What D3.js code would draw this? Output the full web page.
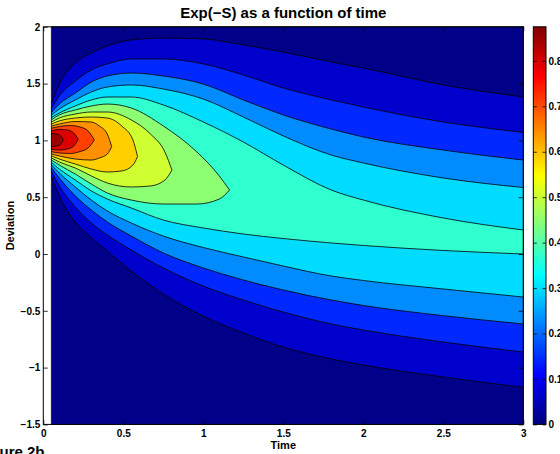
<!DOCTYPE html>
<html>
<head>
<meta charset="utf-8">
<script src="https://cdn.jsdelivr.net/npm/d3@7"></script>
<style>
  body { margin: 0; background: #fff; }
  svg { display: block; font-family: "Liberation Sans", Arial, sans-serif; font-weight: bold; }
</style>
</head>
<body>
<svg id="chart" width="560" height="454"></svg>
<script>
// contour levels of exp(-S), 12 levels between 0 and the peak (~0.875)
const zMax = 0.875;
const levels = [0.067, 0.135, 0.202, 0.269, 0.337, 0.404, 0.471, 0.538, 0.606, 0.673, 0.740, 0.808];
const bandColors = ['#000088', '#0000cc', '#0028ff', '#008cff', '#00dcff', '#30ffcf',
  '#8cff73', '#cfff30', '#ffd000', '#ff9000', '#ff4000', '#dd0000', '#990000'];

// open contours (levels 1-5) run across the whole time range
const tOpen = [0.05, 0.1, 0.2, 0.3, 0.4, 0.55, 0.75, 1.0, 1.25, 1.5, 1.8, 2.0, 2.5, 3.0];
const hi1 = [1.326, 1.496, 1.681, 1.769, 1.831, 1.884, 1.901, 1.893, 1.840, 1.778, 1.690, 1.637, 1.488, 1.382];
const lo1 = [0.681, 0.511, 0.282, 0.145, 0.026, -0.150, -0.352, -0.546, -0.695, -0.819, -0.924, -0.977, -1.083, -1.173];
const hi2 = [1.278, 1.391, 1.523, 1.620, 1.673, 1.717, 1.717, 1.673, 1.576, 1.461, 1.356, 1.294, 1.162, 1.070];
const lo2 = [0.729, 0.599, 0.414, 0.273, 0.167, 0.035, -0.123, -0.282, -0.405, -0.511, -0.616, -0.669, -0.775, -0.863];
const hi3 = [1.246, 1.320, 1.417, 1.514, 1.567, 1.593, 1.567, 1.496, 1.356, 1.224, 1.100, 1.030, 0.915, 0.827];
const lo3 = [0.761, 0.669, 0.511, 0.387, 0.282, 0.158, 0.009, -0.123, -0.229, -0.317, -0.405, -0.453, -0.543, -0.616];
const hi4 = [1.222, 1.276, 1.356, 1.426, 1.470, 1.488, 1.452, 1.364, 1.206, 1.039, 0.871, 0.801, 0.669, 0.585];
const lo4 = [0.785, 0.713, 0.590, 0.475, 0.379, 0.273, 0.158, 0.057, -0.026, -0.106, -0.194, -0.233, -0.308, -0.379];
const hi5 = [1.200, 1.241, 1.303, 1.356, 1.382, 1.382, 1.312, 1.162, 0.986, 0.783, 0.563, 0.475, 0.317, 0.211];
const lo5 = [0.807, 0.748, 0.651, 0.555, 0.484, 0.405, 0.299, 0.229, 0.176, 0.136, 0.097, 0.075, 0.031, 0.000];

// closed contours (levels 6-12), last point is the tip
const t6 = [0.05, 0.1, 0.2, 0.3, 0.4, 0.55, 0.75, 0.96, 1.1, 1.164];
const hi6 = [1.180, 1.224, 1.268, 1.303, 1.320, 1.285, 1.127, 0.898, 0.687, 0.563];
const lo6 = [0.827, 0.783, 0.704, 0.616, 0.537, 0.475, 0.440, 0.440, 0.484, 0.563];
const t7 = [0.05, 0.1, 0.2, 0.3, 0.4, 0.55, 0.67, 0.76, 0.804];
const hi7 = [1.161, 1.197, 1.232, 1.250, 1.250, 1.180, 1.056, 0.898, 0.739];
const lo7 = [0.846, 0.810, 0.757, 0.687, 0.625, 0.590, 0.599, 0.651, 0.739];
const t8 = [0.05, 0.1, 0.2, 0.3, 0.4, 0.49, 0.56, 0.589];
const hi8 = [1.143, 1.171, 1.197, 1.206, 1.197, 1.127, 1.004, 0.858];
const lo8 = [0.864, 0.836, 0.792, 0.748, 0.722, 0.731, 0.783, 0.858];
const t9 = [0.05, 0.1, 0.2, 0.3, 0.35, 0.4, 0.4275];
const hi9 = [1.126, 1.144, 1.166, 1.162, 1.127, 1.056, 0.945];
const lo9 = [0.881, 0.863, 0.836, 0.827, 0.845, 0.880, 0.945];
const t10 = [0.05, 0.1, 0.17, 0.23, 0.28, 0.319];
const hi10 = [1.107, 1.122, 1.131, 1.118, 1.083, 1.004];
const lo10 = [0.901, 0.889, 0.885, 0.902, 0.933, 1.004];
const t11 = [0.05, 0.1, 0.15, 0.19, 0.219];
const hi11 = [1.085, 1.096, 1.092, 1.065, 1.008];
const lo11 = [0.922, 0.915, 0.924, 0.951, 1.008];
const t12 = [0.05, 0.085, 0.11, 0.125];
const hi12 = [1.061, 1.056, 1.039, 1.008];
const lo12 = [0.946, 0.951, 0.968, 1.008];

const xTicks = [0, 0.5, 1, 1.5, 2, 2.5, 3];
const yTicks = [-1.5, -1, -0.5, 0, 0.5, 1, 1.5, 2];
const cbTicks = [0, 0.1, 0.2, 0.3, 0.4, 0.5, 0.6, 0.7, 0.8];
const tRange = [0.05, 3];

const contours = [
  [tOpen, hi1, lo1], [tOpen, hi2, lo2], [tOpen, hi3, lo3], [tOpen, hi4, lo4], [tOpen, hi5, lo5],
  [t6, hi6, lo6], [t7, hi7, lo7], [t8, hi8, lo8], [t9, hi9, lo9], [t10, hi10, lo10],
  [t11, hi11, lo11], [t12, hi12, lo12]
].map(c => d3.zip(c[0], c[1], c[2]));

const fmt = d => String(d).replace('-', '\u2212');

const svg = d3.select('#chart');
const plot = { left: 43.3, right: 523.3, top: 26.8, bottom: 424.4 };

const x = d3.scaleLinear().domain([0, 3]).range([plot.left, plot.right]);
const y = d3.scaleLinear().domain([-1.5, 2]).range([plot.bottom, plot.top]);
const cScale = d3.scaleLinear().domain([0, zMax]).range([plot.bottom, plot.top]);

svg.append('clipPath').attr('id', 'clip')
  .append('rect')
  .attr('x', x(tRange[0])).attr('y', plot.top)
  .attr('width', x(tRange[1]) - x(tRange[0])).attr('height', plot.bottom - plot.top);

const g = svg.append('g').attr('clip-path', 'url(#clip)');

// lowest band as background of the data region
g.append('rect')
  .attr('x', x(tRange[0])).attr('y', plot.top)
  .attr('width', x(tRange[1]) - x(tRange[0])).attr('height', plot.bottom - plot.top)
  .attr('fill', bandColors[0]);

const area = d3.area()
  .x(d => x(d[0]))
  .y0(d => y(d[2]))
  .y1(d => y(d[1]))
  .curve(d3.curveMonotoneX);

const lineHi = d3.line().x(d => x(d[0])).y(d => y(d[1])).curve(d3.curveMonotoneX);
const lineLo = d3.line().x(d => x(d[0])).y(d => y(d[2])).curve(d3.curveMonotoneX);

contours.forEach((rows, i) => {
  g.append('path')
    .datum(rows)
    .attr('d', area)
    .attr('fill', bandColors[i + 1]);
});

contours.forEach(rows => {
  [lineHi, lineLo].forEach(ln => {
    g.append('path')
      .datum(rows)
      .attr('d', ln)
      .attr('fill', 'none')
      .attr('stroke', '#000')
      .attr('stroke-width', 0.8);
  });
});

// patch edge of the data region
svg.append('rect')
  .attr('x', x(tRange[0])).attr('y', plot.top)
  .attr('width', x(tRange[1]) - x(tRange[0])).attr('height', plot.bottom - plot.top)
  .attr('fill', 'none').attr('stroke', '#000').attr('stroke-width', 0.8);

// axes, MATLAB style ticks pointing inward
function styleAxis(sel) {
  sel.select('.domain').remove();
  sel.attr('font-family', '"Liberation Sans", Arial, sans-serif')
    .attr('font-size', 10)
    .attr('font-weight', 'bold');
  sel.selectAll('line').attr('stroke', '#000').attr('stroke-width', 0.8);
  sel.selectAll('text').attr('fill', '#000');
}

svg.append('g')
  .attr('transform', `translate(0, ${plot.bottom})`)
  .call(d3.axisBottom(x).tickValues(xTicks).tickSize(-4.5).tickPadding(5.5).tickFormat(fmt))
  .call(styleAxis);
svg.append('g')
  .attr('transform', `translate(0, ${plot.top})`)
  .call(d3.axisTop(x).tickValues(xTicks).tickSize(-4.5).tickFormat(''))
  .call(styleAxis);
svg.append('g')
  .attr('transform', `translate(${plot.left}, 0)`)
  .call(d3.axisLeft(y).tickValues(yTicks).tickSize(-4.5).tickPadding(3).tickFormat(fmt))
  .call(styleAxis);
svg.append('g')
  .attr('transform', `translate(${plot.right}, 0)`)
  .call(d3.axisRight(y).tickValues(yTicks).tickSize(-4.5).tickFormat(''))
  .call(styleAxis);

svg.append('rect')
  .attr('x', plot.left).attr('y', plot.top)
  .attr('width', plot.right - plot.left).attr('height', plot.bottom - plot.top)
  .attr('fill', 'none').attr('stroke', '#000').attr('stroke-width', 1);

// colorbar
const cb = { left: 533.3, right: 546 };
const jet = [[0, '#000080'], [0.125, '#0000ff'], [0.375, '#00ffff'], [0.625, '#ffff00'], [0.875, '#ff0000'], [1, '#800000']];
const grad = svg.append('defs').append('linearGradient')
  .attr('id', 'jet').attr('x1', 0).attr('x2', 0).attr('y1', 1).attr('y2', 0);
grad.selectAll('stop').data(jet).enter().append('stop')
  .attr('offset', d => d[0]).attr('stop-color', d => d[1]);

svg.append('rect')
  .attr('x', cb.left).attr('y', plot.top)
  .attr('width', cb.right - cb.left).attr('height', plot.bottom - plot.top)
  .attr('fill', 'url(#jet)');

svg.append('g')
  .attr('transform', `translate(${cb.right}, 0)`)
  .call(d3.axisRight(cScale).tickValues(cbTicks).tickSize(-3.5).tickPadding(2.5).tickFormat(d => String(+d.toFixed(1))))
  .call(styleAxis);
svg.append('g')
  .attr('transform', `translate(${cb.left}, 0)`)
  .call(d3.axisLeft(cScale).tickValues(cbTicks).tickSize(-3.5).tickFormat(''))
  .call(styleAxis);
svg.append('rect')
  .attr('x', cb.left).attr('y', plot.top)
  .attr('width', cb.right - cb.left).attr('height', plot.bottom - plot.top)
  .attr('fill', 'none').attr('stroke', '#000').attr('stroke-width', 1);

// titles
svg.append('text')
  .attr('x', (plot.left + plot.right) / 2).attr('y', 17.5)
  .attr('text-anchor', 'middle').attr('font-size', 15)
  .text('Exp(\u2212S) as a function of time');
svg.append('text')
  .attr('x', (plot.left + plot.right) / 2).attr('y', 449)
  .attr('text-anchor', 'middle').attr('font-size', 11)
  .text('Time');
svg.append('text')
  .attr('transform', `translate(14, ${(plot.top + plot.bottom) / 2}) rotate(-90)`)
  .attr('text-anchor', 'middle').attr('font-size', 11)
  .text('Deviation');
svg.append('text')
  .attr('x', -23).attr('y', 457)
  .attr('font-size', 15)
  .text('Figure 2b');
</script>
</body>
</html>
